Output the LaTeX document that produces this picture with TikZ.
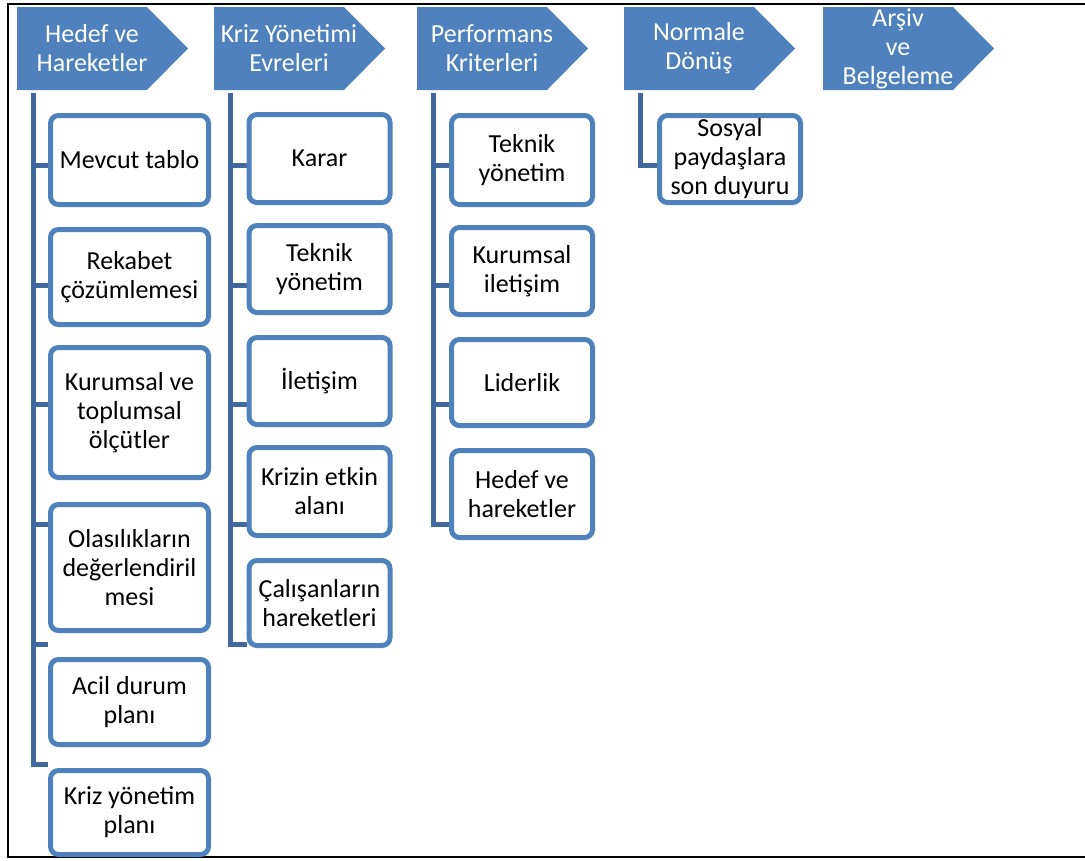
\documentclass[tikz,border=0pt]{standalone}
\usepackage{fontspec}
\setmainfont{Carlito}
\definecolor{hdrblue}{RGB}{79,129,189}
\definecolor{spineblue}{RGB}{64,104,158}
\pgfdeclarelayer{back}
\pgfsetlayers{back,main}
\begin{document}
\begin{tikzpicture}[x=1pt,y=-1pt,
  hdr/.style={fill=hdrblue},
  hdrtext/.style={text=white,font=\fontsize{26}{29}\selectfont,align=center,inner sep=0pt},
  leaf/.style={draw=hdrblue,line width=5pt,fill=white,rounded corners=8pt,align=center,
    font=\fontsize{26}{29}\selectfont,inner sep=0pt,minimum width=141pt},
  leafwide/.style={leaf,minimum width=158pt},
  conn/.style={draw=spineblue,line width=5pt,line join=miter},
  frameline/.style={draw=black,line width=2.2pt}]
\useasboundingbox (0,0) rectangle (1085,860);

% outer frame (open on the right)
\draw[frameline] (1085,4) -- (8,4) -- (8,857) -- (1085,857);

% header arrows
\foreach \L in {17,214,417,624,823}{
  \fill[hdr] (\L,7) -- ({\L+130},7) -- ({\L+171},48.5) -- ({\L+130},90) -- (\L,90) -- cycle;
}
\node[hdrtext] (h1) at (92,48.5)  {Hedef ve\\Hareketler};
\node[hdrtext] (h2) at (289,48.5) {Kriz Yönetimi\\Evreleri};
\node[hdrtext] (h3) at (492,48.5) {Performans\\Kriterleri};
\node[hdrtext] (h4) at (699,48.5) {Normale\\Dönüş};
\node[hdrtext] (h5) at (898,49)   {Arşiv\\ve\\Belgeleme};

% spine tops, just below each header
\coordinate (s1) at (33,93);
\coordinate (s2) at (230,93);
\coordinate (s3) at (433,93);
\coordinate (s4) at (640,93);

% column 1 leaves
\node[leafwide,minimum height=89pt]  (a1) at (129.5,160)   {Mevcut tablo};
\node[leafwide,minimum height=95pt]  (a2) at (129.5,277)   {Rekabet\\çözümlemesi};
\node[leafwide,minimum height=130pt] (a3) at (129.5,412.5) {Kurumsal ve\\toplumsal\\ölçütler};
\node[leafwide,minimum height=126pt] (a4) at (129.5,567.5) {Olasılıkların\\değerlendiril\\mesi};
\node[leafwide,minimum height=85pt]  (a5) at (129.5,702)   {Acil durum\\planı};
\node[leafwide,minimum height=84pt]  (a6) at (129.5,812.5) {Kriz yönetim\\planı};

% column 2 leaves
\node[leaf,minimum height=88pt] (b1) at (319.5,158.5) {Karar};
\node[leaf,minimum height=87pt] (b2) at (319.5,269)   {Teknik\\yönetim};
\node[leaf,minimum height=87pt] (b3) at (319.5,381)   {İletişim};
\node[leaf,minimum height=88pt] (b4) at (319.5,491.5) {Krizin etkin\\alanı};
\node[leaf,minimum height=85pt] (b5) at (319.5,603)   {Çalışanların\\hareketleri};

% column 3 leaves
\node[leaf,minimum height=89pt] (c1) at (522,160)   {Teknik\\yönetim};
\node[leaf,minimum height=87pt] (c2) at (522,271)   {Kurumsal\\iletişim};
\node[leaf,minimum height=86pt] (c3) at (522,382.5) {Liderlik};
\node[leaf,minimum height=87pt] (c4) at (522,494)   {Hedef ve\\hareketler};

% column 4 leaf
\node[leaf,minimum height=87pt] (d1) at (730,159) {Sosyal\\paydaşlara\\son duyuru};

% heights of the branch ticks
\coordinate (t1) at (0,165);
\coordinate (t2) at (0,285);
\coordinate (t3) at (0,404);
\coordinate (t4) at (0,524);
\coordinate (t5) at (0,644);
\coordinate (t6) at (0,764);

% connectors, kept beneath the leaves
\begin{pgfonlayer}{back}
  % column 1
  \draw[conn] (s1) -- (s1 |- t6) -- (t6 -| a6.west);
  \draw[conn] (s1 |- t1) -- (t1 -| a1.west);
  \draw[conn] (s1 |- t2) -- (t2 -| a2.west);
  \draw[conn] (s1 |- t3) -- (t3 -| a3.west);
  \draw[conn] (s1 |- t4) -- (t4 -| a4.west);
  \draw[conn] (s1 |- t5) -- (t5 -| a5.west);
  % column 2
  \draw[conn] (s2) -- (s2 |- t5) -- (t5 -| b5.west);
  \draw[conn] (s2 |- t1) -- (t1 -| b1.west);
  \draw[conn] (s2 |- t2) -- (t2 -| b2.west);
  \draw[conn] (s2 |- t3) -- (t3 -| b3.west);
  \draw[conn] (s2 |- t4) -- (t4 -| b4.west);
  % column 3
  \draw[conn] (s3) -- (s3 |- t4) -- (t4 -| c4.west);
  \draw[conn] (s3 |- t1) -- (t1 -| c1.west);
  \draw[conn] (s3 |- t2) -- (t2 -| c2.west);
  \draw[conn] (s3 |- t3) -- (t3 -| c3.west);
  % column 4
  \draw[conn] (s4) -- (s4 |- t1) -- (t1 -| d1.west);
\end{pgfonlayer}
\end{tikzpicture}
\end{document}
